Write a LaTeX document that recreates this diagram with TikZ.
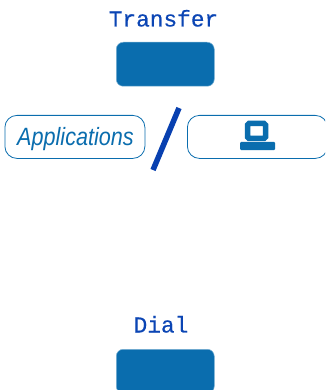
\documentclass[tikz,border=0pt]{standalone}
\usepackage{fontspec}
\setmainfont{Liberation Sans}
\newfontfamily\pixelfont{Liberation Mono}[FakeBold=0.4]
\definecolor{btnblue}{HTML}{0A6DAE}
\definecolor{txtblue}{HTML}{0B45B4}
\definecolor{slashblue}{HTML}{0840B0}
\tikzset{
  x=1pt,y=-1pt,
  softbtn/.style={draw=btnblue!55,line width=.5pt,fill=btnblue,rounded corners=7pt,minimum width=98pt,minimum height=44pt,inner sep=0pt,anchor=north west},
  keycap/.style={draw=btnblue,line width=.8pt,fill=white,rounded corners=12pt,minimum width=140pt,minimum height=43pt,inner sep=0pt,anchor=north west},
  softlabel/.style={text=txtblue,font=\pixelfont\fontsize{22.8}{22.8}\selectfont,inner sep=0pt,anchor=base},
}
\begin{document}
\begin{tikzpicture}
\useasboundingbox (0,0) rectangle (325,390);
\clip (0,0) rectangle (325,390);
\node[softlabel] (transfer) at (163.5,26.5) {Transfer};
\node[softbtn] (btntop) at (116,42) {};
\node[keycap] (apps) at (4.5,115) {};
\node[text=btnblue,inner sep=0pt,font=\itshape\fontsize{25}{25}\selectfont,xscale=.865,anchor=base] (appstext) at (75.5,146) {Applications};
\node[keycap] (pc) at (187,115) {};
\node[draw=btnblue,line width=5.5pt,rounded corners=1.5pt,minimum width=18pt,minimum height=15pt,inner sep=0pt] (screen) at (256.5,131) {};
\node[fill=btnblue,rounded corners=1pt,minimum width=35pt,minimum height=8pt,inner sep=0pt] (base) at (257.5,146) {};
\coordinate (slashtop) at (179,108);
\coordinate (slashbot) at (153,170);
\draw[slashblue,line width=5.5pt] (slashtop) -- (slashbot);
\node[softlabel] (dial) at (161,332.5) {Dial};
\node[softbtn] (btnbot) at (116,349) {};
\end{tikzpicture}
\end{document}
